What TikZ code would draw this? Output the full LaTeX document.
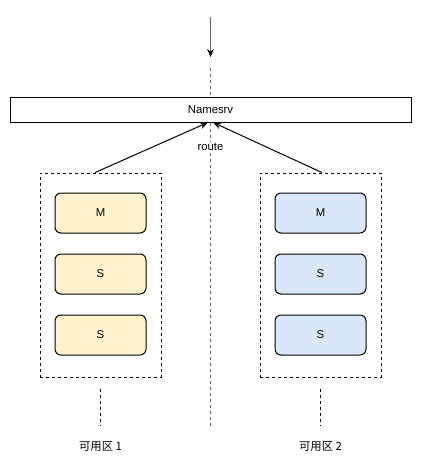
\documentclass[tikz,border=0pt]{standalone}
\usepackage{fontspec}
\setmainfont{Liberation Sans}
\newfontfamily\cjk{Noto Sans CJK SC}
\usetikzlibrary{arrows.meta,positioning}
\definecolor{masterfill}{HTML}{FFF2CC}
\definecolor{slavefill}{HTML}{DAE8FC}
\definecolor{midline}{HTML}{666666}

\begin{document}
\begin{tikzpicture}[x=0.75pt,y=-0.75pt,line width=0.75pt,every node/.style={font=\fontsize{8.5}{10}\selectfont},broker/.style={draw, rounded corners=4.5pt, minimum width=68.25pt, minimum height=30pt},zone/.style={draw, dash pattern=on 2.25pt off 2.25pt, minimum width=90.75pt, minimum height=153pt},link/.style={dash pattern=on 2.25pt off 2.25pt},flow/.style={-{Stealth[length=6pt,width=5pt,black]}}]
\useasboundingbox (0,0) rectangle (421,468);
\node[draw, minimum width=300.75pt, minimum height=18.75pt] (ns) at (210.5,109.5) {Namesrv};
% zone 1
\node[zone] (zoneA) at (100.5,275) {};
\node[broker, fill=masterfill] (m1) at (100.5,213) {M};
\node[broker, fill=masterfill, below=15pt of m1] (s1a) {S};
\node[broker, fill=masterfill, below=15pt of s1a] (s1b) {S};
% zone 2
\node[zone] (zoneB) at (320.5,275) {};
\node[broker, fill=slavefill] (m2) at (320.5,213) {M};
\node[broker, fill=slavefill, below=15pt of m2] (s2a) {S};
\node[broker, fill=slavefill, below=15pt of s2a] (s2b) {S};
\node (lab1) at (100.5,447) {\cjk 可用区 1};
\node (lab2) at (320.5,447) {\cjk 可用区 2};
\coordinate (src) at (210.5,17);
\coordinate (dst) at (210.5,57);
\coordinate (mid) at (210.5,68);
\coordinate (bot) at (210.5,428);
\draw[flow, midline] (src) -- (dst);
\draw[link, midline] (mid) -- (ns.north);
\draw[link, midline] (ns.south) -- (bot);
\node[fill=white, inner sep=1pt] (route) at (210.5,147) {route};
\draw[flow] ([xshift=-4pt]zoneA.north) -- ([xshift=-2pt]ns.south);
\draw[flow] ([xshift=1pt]zoneB.north) -- ([xshift=2pt]ns.south);
\draw[link] ([yshift=-8.25pt]zoneA.south) -- ([yshift=8pt]lab1.north);
\draw[link] ([yshift=-8.25pt]zoneB.south) -- ([yshift=8pt]lab2.north);
\end{tikzpicture}
\end{document}
